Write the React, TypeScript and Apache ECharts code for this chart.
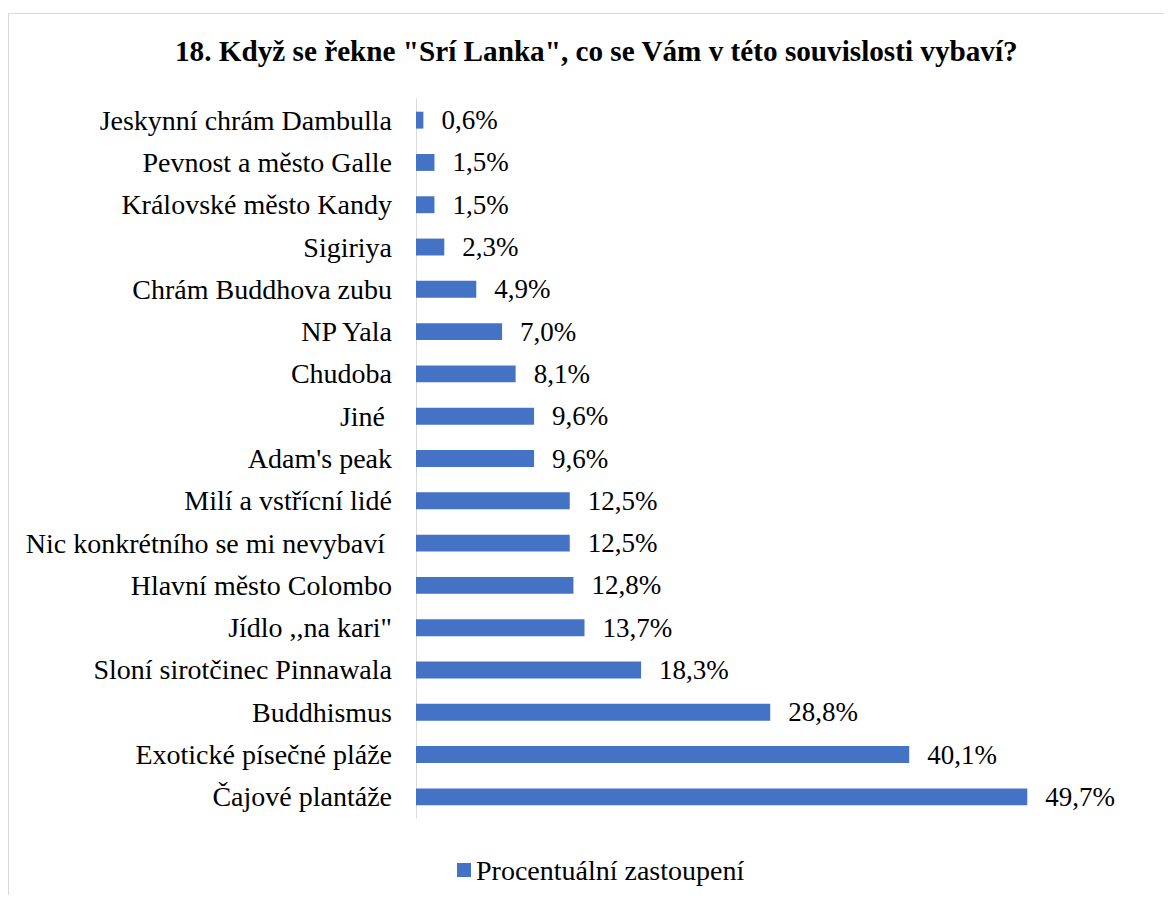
import React, { useEffect, useRef } from "react";
import * as echarts from "echarts";

const categories: string[] = [
  "Jeskynní chrám Dambulla",
  "Pevnost a město Galle",
  "Královské město Kandy",
  "Sigiriya",
  "Chrám Buddhova zubu",
  "NP Yala",
  "Chudoba",
  "Jiné ",
  "Adam's peak",
  "Milí a vstřícní lidé",
  "Nic konkrétního se mi nevybaví ",
  "Hlavní město Colombo",
  "Jídlo ,,na kari\"",
  "Sloní sirotčinec Pinnawala",
  "Buddhismus",
  "Exotické písečné pláže",
  "Čajové plantáže",
];

const values: number[] = [0.6, 1.5, 1.5, 2.3, 4.9, 7.0, 8.1, 9.6, 9.6, 12.5, 12.5, 12.8, 13.7, 18.3, 28.8, 40.1, 49.7];

const seriesName = "Procentuální zastoupení";
const titleText = '18. Když se řekne "Srí Lanka", co se Vám v této souvislosti vybaví?';

const FONT = "Liberation Serif";

export default function App() {
  const ref = useRef<HTMLDivElement>(null);
  useEffect(() => {
    if (!ref.current) return;
    const chart = echarts.init(ref.current, undefined, { renderer: "svg" });
    chart.setOption({
      animation: false,
      backgroundColor: "#ffffff",
      title: {
        text: titleText,
        left: 167,
        top: 28,
        padding: 0,
        textStyle: { fontFamily: FONT, fontSize: 29.2, fontWeight: "bold", color: "#000000" },
      },
      graphic: [
        {
          type: "rect",
          shape: { x: 0.5, y: 5.5, width: 1400, height: 1200 },
          style: { fill: "none", stroke: "#d9d9d9", lineWidth: 1 },
          silent: true,
        },
      ],
      legend: {
        left: 444,
        top: 843,
        icon: "rect",
        itemWidth: 14,
        itemHeight: 14,
        textStyle: { fontFamily: FONT, fontSize: 28, color: "#000000" },
        data: [seriesName],
      },
      grid: { left: 408, top: 91, width: 615, height: 719, containLabel: false },
      xAxis: {
        type: "value",
        min: 0,
        max: 50,
        show: false,
        splitLine: { show: false },
      },
      yAxis: {
        type: "category",
        inverse: true,
        data: categories,
        axisLine: { show: true, lineStyle: { color: "#d9d9d9", width: 1 } },
        axisTick: { show: false },
        axisLabel: { fontFamily: FONT, fontSize: 28, color: "#000000", margin: 24 },
      },
      series: [
        {
          name: seriesName,
          type: "bar",
          data: values,
          barCategoryGap: "60%",
          itemStyle: { color: "#4472C4" },
          label: {
            show: true,
            position: "right",
            distance: 18,
            fontFamily: FONT,
            fontSize: 27,
            color: "#000000",
            formatter: (p: any) => p.value.toFixed(1).replace(".", ",") + "%",
          },
        },
      ],
    });
    return () => chart.dispose();
  }, []);
  return <div ref={ref} style={{ width: 1156, height: 887, overflow: "hidden" }} />;
}
